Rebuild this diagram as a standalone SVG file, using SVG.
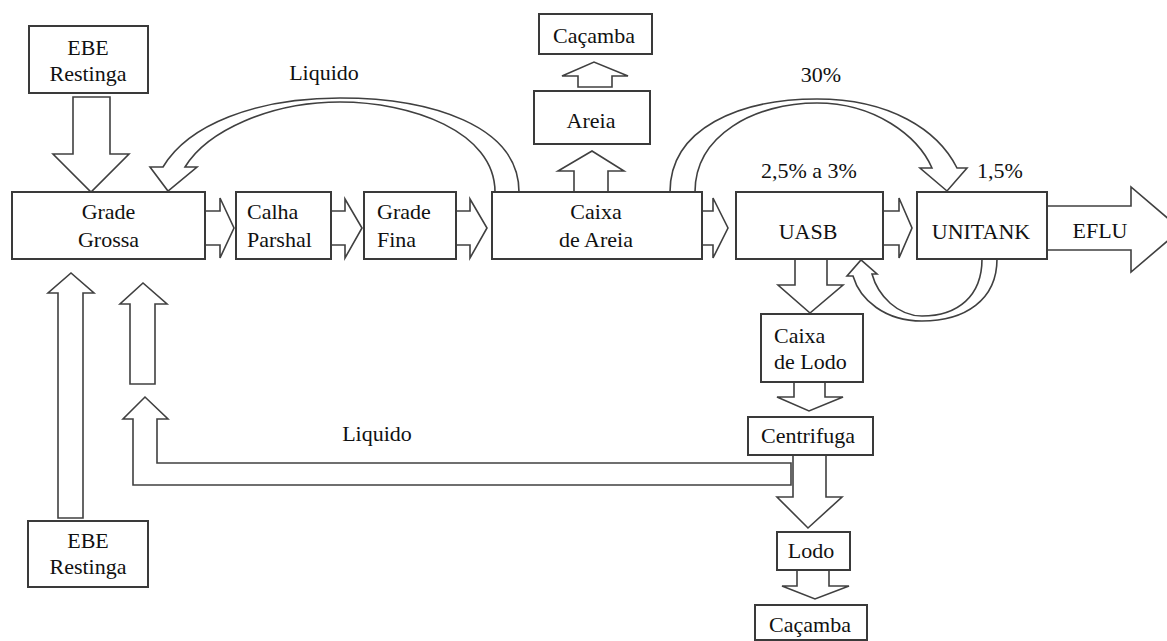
<svg xmlns="http://www.w3.org/2000/svg" width="1167" height="641" viewBox="0 0 1167 641" font-family="'Liberation Serif', 'DejaVu Serif', serif" font-size="22">
<style>
.box{fill:#fff;stroke:#3a3a3a;stroke-width:2}
.arr{fill:#fff;stroke:#404040;stroke-width:1.6;stroke-linejoin:miter}
text{font-family:'Liberation Serif','DejaVu Serif',serif;font-size:22px;fill:#111}
.c{text-anchor:middle}
</style>
<rect x="0" y="0" width="1167" height="641" fill="#fff"/>
<g id="connectors">
  <polygon class="arr" points="73,97 110,97 110,154 129,154 91,192 53,154 73,154"/>
  <polygon class="arr" points="205,211 220,211 220,198 234,228 220,258 220,245 205,245"/>
  <polygon class="arr" points="331,211 345,211 345,199 362,228 345,258 345,245 331,245"/>
  <polygon class="arr" points="456,211 470,211 470,199 487,228 470,258 470,245 456,245"/>
  <polygon class="arr" points="702,211 713,211 713,198 728,228 713,258 713,245 702,245"/>
  <polygon class="arr" points="883,211 899,211 899,198 912,228 899,258 899,245 883,245"/>
  <polygon class="arr" points="574,192 574,171 558,171 592,151 624,171 608,171 608,192"/>
  <polygon class="arr" points="578,87 578,76 562,76 594,62 628,76 612,76 612,87"/>
  <polygon class="arr" points="795,259 827,259 827,285 843,285 810,313 778,285 795,285"/>
  <polygon class="arr" points="794,382 825,382 825,397 843,397 809,411 777,397 794,397"/>
  <polygon class="arr" points="793,455 826,455 826,497 842,497 808,528 777,497 793,497"/>
  <polygon class="arr" points="797,570 829,570 829,586 849,586 815,599 782,586 797,586"/>
  <polygon class="arr" points="58,518 58,293 48,293 71,273 94,293 83,293 83,518"/>
  <polygon class="arr" points="130,384 130,304 120,304 143,283 167,304 155,304 155,384"/>
  <polygon class="arr" points="791,463 157,463 157,419 168,419 145,397 123,419 133,419 133,485 791,485"/>
  <polygon class="arr" points="1047,206 1131,206 1131,187 1181,229.5 1131,272 1131,250 1047,250"/>
  <path class="arr" d="M519,192 C519,125 430,98 340,98 C255,98 188,125 163,167 L150,167 L168,191 L197,167 L185,167 C207,131 270,102 340,102 C410,102 495,131 495,192 Z"/>
  <path class="arr" d="M670,192 C670,128 740,99 817,99 C890,99 938,130 957,168 L967,168 L947,191 L920,168 L932,168 C918,136 875,103 817,103 C755,103 695,135 695,192 Z"/>
  <path class="arr" d="M997,259 C997,300 965,321 922,321 C885,321 860,300 853,276 L847,276 L861,260 L877,274 L872,274 C878,296 898,316 922,316 C958,316 982,296 982,259 Z"/>
</g>
<g id="ebe-top"><rect class="box" x="29" y="26" width="119" height="67"/><text class="c" x="88" y="55">EBE</text><text class="c" x="88" y="81">Restinga</text></g>
<g id="grade-grossa"><rect class="box" x="12" y="192" width="193" height="67"/><text class="c" x="108.5" y="219">Grade</text><text class="c" x="108.5" y="247">Grossa</text></g>
<g id="calha-parshal"><rect class="box" x="236" y="192" width="95" height="67"/><text x="247" y="219">Calha</text><text x="247" y="247">Parshal</text></g>
<g id="grade-fina"><rect class="box" x="364" y="192" width="92" height="67"/><text x="377" y="219">Grade</text><text x="377" y="247">Fina</text></g>
<g id="caixa-areia"><rect class="box" x="492" y="192" width="210" height="67"/><text class="c" x="596" y="219">Caixa</text><text class="c" x="596" y="247">de Areia</text></g>
<g id="cacamba-top"><rect class="box" x="539" y="14" width="113" height="40"/><text class="c" x="594" y="43">Caçamba</text></g>
<g id="areia"><rect class="box" x="534" y="91" width="116" height="53"/><text class="c" x="591" y="128">Areia</text></g>
<g id="uasb"><rect class="box" x="736" y="192" width="147" height="67"/><text class="c" x="808" y="239">UASB</text></g>
<g id="unitank"><rect class="box" x="917" y="192" width="130" height="67"/><text class="c" x="981" y="239">UNITANK</text></g>
<g id="eflu"><text class="c" x="1100" y="238">EFLU</text></g>
<g id="caixa-lodo"><rect class="box" x="761" y="314" width="102" height="68"/><text x="774" y="343">Caixa</text><text x="774" y="369">de Lodo</text></g>
<g id="centrifuga"><rect class="box" x="748" y="417" width="125" height="38"/><text class="c" x="808" y="443">Centrifuga</text></g>
<g id="lodo"><rect class="box" x="777" y="532" width="73" height="38"/><text class="c" x="811" y="558">Lodo</text></g>
<g id="cacamba-bottom"><rect class="box" x="755" y="605" width="112" height="35"/><text class="c" x="810" y="632">Caçamba</text></g>
<g id="ebe-bottom"><rect class="box" x="28" y="521" width="120" height="66"/><text class="c" x="88" y="548">EBE</text><text class="c" x="88" y="574">Restinga</text></g>
<g id="labels">
  <text class="c" x="324" y="80">Liquido</text>
  <text class="c" x="377" y="441">Liquido</text>
  <text class="c" x="821" y="82">30%</text>
  <text class="c" x="809" y="178">2,5% a 3%</text>
  <text class="c" x="1000" y="178">1,5%</text>
</g>
</svg>
